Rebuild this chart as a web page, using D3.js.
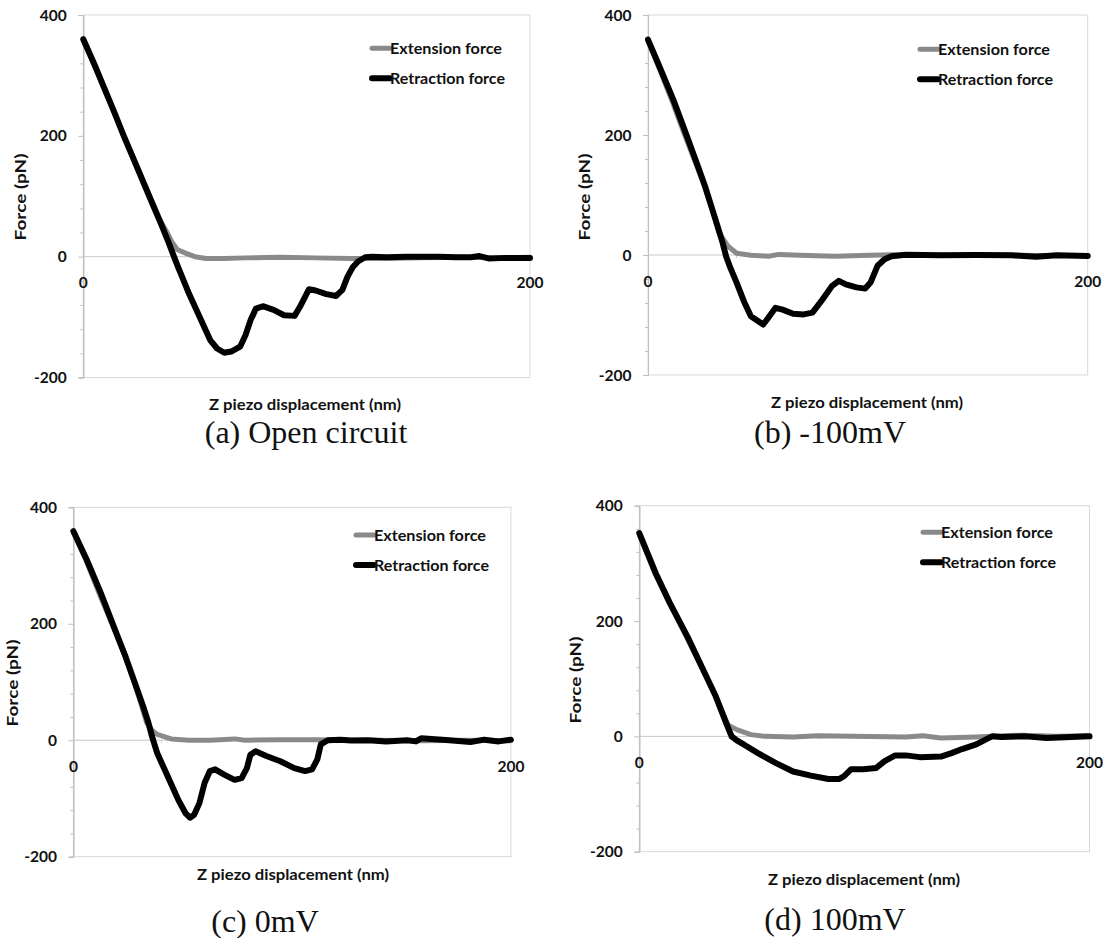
<!DOCTYPE html>
<html>
<head>
<meta charset="utf-8">
<script src="https://cdn.jsdelivr.net/npm/d3@7"></script>
<style>
  html, body { margin: 0; padding: 0; background: #fff; }
  svg { display: block; }
  .tick-label { font-family: Lato, "Open Sans", sans-serif; font-weight: 700; font-size: 15.5px; fill: #111; }
  .axis-title { font-family: Lato, "Open Sans", sans-serif; font-weight: 700; font-size: 15px; fill: #111; }
  .legend-text { font-family: Lato, "Open Sans", sans-serif; font-weight: 700; font-size: 16px; fill: #111; }
  .caption { font-family: "Liberation Serif", "Times New Roman", serif; font-size: 32px; fill: #111; }
</style>
</head>
<body>
<svg id="chart" width="1107" height="938"></svg>
<script>
// Axis ranges and tick labels shared by all four force curves
const xDomain = [0, 200];
const yDomain = [-200, 400];
const yMajorTicks = [400, 200, 0, -200];
const yMinorTicks = [360, 320, 280, 240, 160, 120, 80, 40, -40, -80, -120, -160];
const xTickLabels = [0, 200];
const xMinorTicks = [40, 80, 120, 160];

const seriesNames = ["Extension force", "Retraction force"];
const captions = ["(a) Open circuit", "(b) -100mV", "(c) 0mV", "(d) 100mV"];
const yTitle = "Force (pN)";
const xTitle = "Z piezo displacement (nm)";

// (a) Open circuit
const openExtX = [0, 5, 9.5, 14, 18, 22, 26.5, 30.8, 34.5, 37.5, 39.6, 42, 46.3, 50, 55, 63, 72.6, 88, 104, 120, 135.6, 151, 170, 185, 200];
const openExtY = [358, 316, 276, 237, 201, 168, 128, 92, 60, 40, 25, 12, 5, 0, -3, -3, -2, -1, -2, -3, -3, -2, -1, -2, -1];
const openRetX = [0, 5, 9.5, 14, 18.1, 22, 26.8, 31, 34.7, 37.5, 40.3, 42.3, 44.2, 47.3, 52, 56.8, 59.9, 63.1, 66.2, 70.2, 72.6, 74.9, 77.3, 80.4, 85.2, 89.9, 94.6, 97, 101, 104, 108.8, 113.2, 116, 118.3, 120.7, 123, 126.2, 129.3, 135.6, 145, 159, 167, 173.5, 177.4, 181.4, 189.3, 200];
const openRetY = [360, 318, 278, 238, 200, 166, 124, 87, 55, 30, 3, -16, -33, -61, -99, -138, -152, -159, -157, -149, -130, -105, -86, -82, -88, -97, -98, -83, -54, -56, -62, -65, -55, -33, -17, -8, -1, 0, -1, 0, 0, -1, -1, 1, -3, -2, -2];

// (b) -100 mV
const negExtX = [0, 5, 11, 16.5, 22, 26, 30, 32.3, 36.3, 40.3, 46.8, 54.8, 59.6, 69, 85, 101, 110.8, 125, 140, 160, 180, 200];
const negExtY = [357, 312, 256, 202, 150, 112, 68, 37, 15, 3, -0.5, -2, 1, -0.5, -2, -0.5, 0.5, 0, -1, 0, -1, -1];
const negRetX = [0, 5.1, 11.5, 17.1, 22.7, 25.9, 30.7, 33.9, 35.5, 37.1, 40.3, 43.6, 46.8, 50, 52.4, 54.8, 58, 61.2, 66, 70.8, 74.8, 78.8, 83.6, 86.8, 90, 94.8, 98.8, 101.2, 104.4, 107.6, 110.8, 117.2, 125.2, 133.2, 149.2, 165.3, 176.5, 186, 200];
const negRetY = [359, 315, 259, 204, 148, 115, 59, 21, -2, -18, -46, -77, -102, -110, -116, -104, -88, -91, -98, -99, -96, -77, -52, -43, -49, -54, -56, -46, -18, -7, -2, 0.5, 0, -0.5, 0, -0.5, -3, -0.5, -1.7];

// (c) 0 mV
const zeroExtX = [0, 6, 12, 18.5, 23.5, 28, 31.5, 33.5, 36, 38.3, 44.7, 52.8, 62.4, 73.7, 78.5, 94.6, 110.7, 125, 140, 160, 180, 200];
const zeroExtY = [357, 307, 250, 192, 146, 98, 55, 30, 17, 10, 2.3, 0, 0, 2.3, 0, 1, 1, 0, 0, -1, 0, -1];
const zeroRetX = [0, 6.1, 12.5, 19, 23.8, 28.6, 31.9, 34.3, 35.9, 38.3, 43.1, 47.9, 51.2, 53.3, 55.2, 57.6, 60, 62.4, 64.8, 68.9, 73.7, 76.9, 79.3, 80.9, 83.3, 88.2, 94.6, 101, 105.9, 109.1, 111.5, 113.1, 116.3, 122, 126.8, 134.8, 142.9, 152.5, 156.6, 159, 163.8, 171.8, 181.5, 187.9, 194.4, 200];
const zeroRetY = [359, 310, 253, 190, 144, 93, 58, 30, 7, -22, -62, -102, -125, -133, -128, -108, -73, -53, -50, -59, -68, -65, -48, -25, -19, -27, -36, -48, -53, -50, -33, -7, 0, 1, -0.6, 0, -2, 0, -2, 3.4, 2.3, 0, -3, 1, -2, 1];

// (d) 100 mV
const posExtX = [0, 7, 13.5, 21, 27.5, 34, 38.5, 39.4, 43.3, 49.6, 55.8, 68.3, 79.3, 95, 118.4, 126, 134, 149.7, 156.7, 170, 185, 200];
const posExtY = [350, 282, 230, 172, 121, 70, 28, 20, 11.6, 3, 0, -1, 1, 0, -1, 1, -3, -1, 0, 2, 0, 1];
const posRetX = [0, 7.3, 13.6, 21.4, 27.7, 34, 38.6, 41, 43.3, 46.4, 52.7, 60.5, 68.3, 76.2, 84, 88.7, 91, 94.1, 99.6, 105.1, 109, 113.7, 118.4, 124.6, 134, 138.7, 143.4, 149.7, 153.6, 156.7, 160.6, 171.6, 181, 191.9, 200];
const posRetY = [352.6, 283, 231, 173, 121, 69, 23, 0, -7, -14, -29, -46, -61, -68, -74, -74, -69, -57, -57, -55, -43, -33, -33, -36, -35, -29, -22, -14, -6, 0, -1, 0, -3, -1, 0];

const seriesColors = ["#8a8a8a", "#000000"];
const seriesWidths = [5, 6];

const zip = (xs, ys) => xs.map((x, i) => [x, ys[i]]);

// Frame of each panel on the page
const panels = [
  { left: 83.3, right: 530, top: 15, bottom: 377.5,
    yTitleX: 21, yTitleY: 197, xTitleX: 305, xTitleY: 405,
    legX: 372, legY: 48.3, capX: 306, capY: 443,
    ext: zip(openExtX, openExtY), ret: zip(openRetX, openRetY) },
  { left: 648, right: 1087.7, top: 15, bottom: 375,
    yTitleX: 585, yTitleY: 197, xTitleX: 867, xTitleY: 403,
    legX: 920, legY: 49.3, capX: 830, capY: 443,
    ext: zip(negExtX, negExtY), ret: zip(negRetX, negRetY) },
  { left: 73.4, right: 510.9, top: 507.3, bottom: 856.7,
    yTitleX: 13, yTitleY: 683, xTitleX: 293, xTitleY: 874.5,
    legX: 356, legY: 535, capX: 265, capY: 932,
    ext: zip(zeroExtX, zeroExtY), ret: zip(zeroRetX, zeroRetY) },
  { left: 639.3, right: 1089.5, top: 505.7, bottom: 851.7,
    yTitleX: 575.6, yTitleY: 680, xTitleX: 864, xTitleY: 880,
    legX: 923, legY: 532.3, capX: 835, capY: 930,
    ext: zip(posExtX, posExtY), ret: zip(posRetX, posRetY) }
];

const svg = d3.select("#chart");

panels.forEach((p, idx) => {
  const x = d3.scaleLinear().domain(xDomain).range([p.left, p.right]);
  const y = d3.scaleLinear().domain(yDomain).range([p.bottom, p.top]);
  const g = svg.append("g");

  // plot-area border
  g.append("rect")
    .attr("x", p.left).attr("y", p.top)
    .attr("width", p.right - p.left).attr("height", p.bottom - p.top)
    .attr("fill", "none").attr("stroke", "#d9d9d9").attr("stroke-width", 1);

  // vertical axis with major and minor ticks
  const yAxisMajor = d3.axisLeft(y).tickValues(yMajorTicks).tickSize(5).tickFormat("");
  const yAxisMinor = d3.axisLeft(y).tickValues(yMinorTicks).tickSize(3).tickFormat("");
  [yAxisMajor, yAxisMinor].forEach(ax => {
    const a = g.append("g").attr("transform", `translate(${p.left},0)`).call(ax);
    a.select(".domain").attr("stroke", "#bfbfbf");
    a.selectAll(".tick line").attr("stroke", "#bfbfbf");
  });

  // horizontal axis along zero force
  const xAxis = d3.axisBottom(x).tickValues(xMinorTicks).tickSize(3).tickFormat("");
  const xa = g.append("g").attr("transform", `translate(0,${y(0)})`).call(xAxis);
  xa.select(".domain").attr("stroke", "#c8c8c8").attr("d", `M${p.left},0H${p.right}`);
  xa.selectAll(".tick line").attr("stroke", "#d0d0d0");

  // tick labels
  g.selectAll(".ylab").data(yMajorTicks).join("text")
    .attr("class", "tick-label")
    .attr("x", p.left - 16.5).attr("y", d => y(d))
    .attr("dy", "0.36em").attr("text-anchor", "end")
    .text(d => d);
  g.selectAll(".xlab").data(xTickLabels).join("text")
    .attr("class", "tick-label")
    .attr("x", d => x(d)).attr("y", y(0) + 26)
    .attr("dy", "0.36em").attr("text-anchor", "middle")
    .text(d => d);

  // force curves
  const line = d3.line().x(d => x(d[0])).y(d => y(d[1])).curve(d3.curveLinear);
  [p.ext, p.ret].forEach((data, i) => {
    g.append("path").datum(data)
      .attr("d", line)
      .attr("fill", "none")
      .attr("stroke", seriesColors[i])
      .attr("stroke-width", seriesWidths[i])
      .attr("stroke-linejoin", "round")
      .attr("stroke-linecap", "round");
  });

  // legend
  seriesNames.forEach((name, i) => {
    const ly = p.legY + i * 30;
    g.append("line")
      .attr("x1", p.legX).attr("x2", p.legX + 18)
      .attr("y1", ly).attr("y2", ly)
      .attr("stroke", seriesColors[i]).attr("stroke-width", seriesWidths[i])
      .attr("stroke-linecap", "round");
    g.append("text").attr("class", "legend-text")
      .attr("x", p.legX + 18).attr("y", ly).attr("dy", "0.35em")
      .attr("textLength", i === 0 ? 112 : 115).attr("lengthAdjust", "spacingAndGlyphs")
      .text(name);
  });

  // axis titles
  g.append("text").attr("class", "axis-title")
    .attr("transform", `translate(${p.yTitleX},${p.yTitleY}) rotate(-90)`)
    .attr("text-anchor", "middle").attr("dy", "0.35em")
    .attr("textLength", 87).attr("lengthAdjust", "spacingAndGlyphs")
    .text(yTitle);
  g.append("text").attr("class", "axis-title")
    .attr("x", p.xTitleX).attr("y", p.xTitleY).attr("dy", "0.35em")
    .attr("text-anchor", "middle")
    .attr("textLength", 192).attr("lengthAdjust", "spacingAndGlyphs")
    .text(xTitle);

  // panel caption
  g.append("text").attr("class", "caption")
    .attr("x", p.capX).attr("y", p.capY)
    .attr("text-anchor", "middle")
    .text(captions[idx]);
});
</script>
</body>
</html>
